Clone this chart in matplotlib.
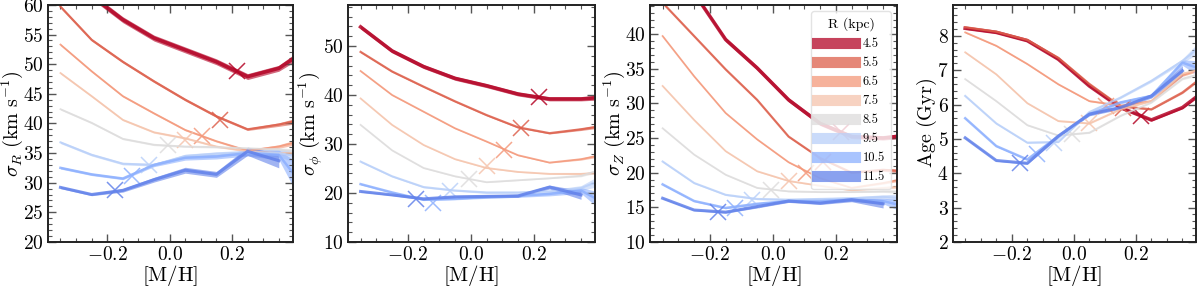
import matplotlib
matplotlib.use('Agg')
import matplotlib.pyplot as plt
import numpy as np
from matplotlib.ticker import MultipleLocator

plt.rcParams['font.family'] = 'serif'
plt.rcParams['font.serif'] = ['cmr10']
plt.rcParams['mathtext.fontset'] = 'cm'
plt.rcParams['axes.formatter.use_mathtext'] = True
plt.rcParams['axes.unicode_minus'] = True

# bin centres in [M/H] (last bin lies just outside the plotted range)
mh = [-0.35, -0.25, -0.15, -0.05, 0.05, 0.15, 0.25, 0.35, 0.45]
radii = [4.5, 5.5, 6.5, 7.5, 8.5, 9.5, 10.5, 11.5]
nan = np.nan

sig_R = [
    [65.0, 61.5, 57.5, 54.4, 52.4, 50.4, 47.9, 49.3, 52.8],
    [59.7, 54.1, 50.4, 47.1, 44.0, 41.2, 39.0, 39.8, 40.9],
    [53.3, 48.8, 44.6, 41.7, 38.9, 37.0, 35.4, 36.1, 37.4],
    [48.5, 44.6, 40.6, 38.5, 37.5, 36.1, 35.3, 35.0, 35.0],
    [42.4, 40.1, 37.4, 36.4, 36.1, 36.0, 35.8, 35.6, 35.0],
    [36.8, 34.7, 33.2, 33.0, 34.5, 34.9, 35.1, 35.0, 34.0],
    [32.5, 31.4, 30.7, 33.0, 34.2, 34.4, 35.0, 34.7, 28.0],
    [29.2, 28.0, 28.7, 30.5, 32.1, 31.4, 35.3, 33.7, nan],
]
err_R = [
    [0.5, 0.5, 0.5, 0.5, 0.5, 0.5, 0.5, 0.5, 0.8],
    [0.2, 0.2, 0.2, 0.2, 0.2, 0.2, 0.2, 0.3, 0.6],
    [0.15, 0.15, 0.15, 0.15, 0.15, 0.15, 0.15, 0.3, 0.5],
    [0.15, 0.15, 0.15, 0.15, 0.15, 0.15, 0.15, 0.3, 0.5],
    [0.15, 0.15, 0.15, 0.15, 0.15, 0.15, 0.15, 0.3, 0.5],
    [0.2, 0.2, 0.2, 0.2, 0.3, 0.3, 0.4, 0.6, 1.5],
    [0.2, 0.2, 0.2, 0.3, 0.4, 0.4, 0.5, 0.8, 4.0],
    [0.2, 0.2, 0.3, 0.4, 0.5, 0.5, 0.7, 1.2, nan],
]

sig_phi = [
    [53.9, 49.0, 45.8, 43.4, 41.9, 40.2, 39.2, 39.2, 39.7],
    [48.8, 44.8, 41.7, 38.7, 35.9, 33.4, 32.2, 33.0, 34.0],
    [44.9, 40.0, 36.6, 33.2, 30.5, 27.7, 26.2, 26.9, 28.2],
    [39.3, 33.9, 29.8, 26.9, 25.1, 24.3, 23.9, 23.9, 24.3],
    [33.9, 28.7, 25.1, 23.4, 22.2, 22.6, 23.0, 23.5, 25.5],
    [26.4, 23.4, 21.2, 20.5, 20.1, 20.1, 20.3, 21.0, 23.5],
    [21.8, 20.1, 18.6, 18.8, 19.2, 19.4, 19.8, 20.5, 17.0],
    [20.3, 19.6, 18.8, 19.2, 19.3, 19.4, 21.2, 19.6, nan],
]
err_phi = [
    [0.4, 0.4, 0.4, 0.4, 0.4, 0.4, 0.4, 0.4, 0.6],
    [0.15, 0.15, 0.15, 0.15, 0.15, 0.15, 0.15, 0.25, 0.4],
    [0.1, 0.1, 0.1, 0.1, 0.1, 0.1, 0.1, 0.2, 0.4],
    [0.1, 0.1, 0.1, 0.1, 0.1, 0.1, 0.1, 0.2, 0.4],
    [0.1, 0.1, 0.1, 0.1, 0.1, 0.1, 0.1, 0.2, 0.5],
    [0.15, 0.15, 0.15, 0.15, 0.2, 0.2, 0.3, 0.5, 1.5],
    [0.15, 0.15, 0.15, 0.2, 0.3, 0.3, 0.4, 0.6, 2.5],
    [0.15, 0.15, 0.2, 0.3, 0.3, 0.3, 0.4, 0.9, nan],
]

sig_z = [
    [50.0, 45.9, 39.2, 35.1, 30.5, 27.1, 25.2, 25.0, 25.5],
    [44.5, 39.7, 34.9, 30.5, 25.2, 22.1, 20.0, 20.4, 20.1],
    [39.7, 33.9, 28.6, 24.8, 21.5, 19.2, 17.8, 18.5, 19.4],
    [32.5, 27.6, 23.1, 20.2, 18.8, 18.1, 17.45, 17.8, 18.1],
    [26.4, 22.6, 19.7, 17.8, 17.3, 17.2, 17.2, 17.3, 17.2],
    [21.6, 18.5, 16.8, 16.2, 16.1, 16.2, 16.3, 16.5, 16.2],
    [18.3, 15.9, 14.9, 15.5, 15.9, 15.9, 16.1, 15.9, 14.8],
    [16.3, 14.6, 14.3, 15.1, 15.9, 15.6, 16.1, 15.5, nan],
]
err_z = [
    [0.3, 0.3, 0.3, 0.3, 0.3, 0.3, 0.3, 0.3, 0.4],
    [0.1, 0.1, 0.1, 0.1, 0.1, 0.1, 0.1, 0.2, 0.3],
    [0.08, 0.08, 0.08, 0.08, 0.08, 0.08, 0.08, 0.15, 0.3],
    [0.08, 0.08, 0.08, 0.08, 0.08, 0.08, 0.08, 0.15, 0.3],
    [0.08, 0.08, 0.08, 0.08, 0.08, 0.08, 0.08, 0.15, 0.3],
    [0.1, 0.1, 0.1, 0.1, 0.15, 0.15, 0.2, 0.3, 0.8],
    [0.1, 0.1, 0.1, 0.15, 0.2, 0.2, 0.25, 0.4, 1.2],
    [0.1, 0.1, 0.15, 0.2, 0.2, 0.2, 0.3, 0.6, nan],
]

age = [
    [8.22, 8.10, 7.86, 7.32, 6.54, 5.91, 5.55, 5.91, 6.60],
    [8.25, 8.12, 7.88, 7.36, 6.60, 5.95, 5.86, 6.35, 7.05],
    [8.10, 7.71, 7.18, 6.59, 6.10, 5.97, 6.10, 6.85, 7.15],
    [7.52, 6.88, 6.04, 5.52, 5.45, 5.86, 6.10, 6.90, 7.10],
    [6.74, 6.10, 5.40, 5.10, 5.18, 5.67, 6.06, 6.75, 7.00],
    [6.25, 5.45, 4.89, 4.91, 5.78, 6.20, 6.69, 7.27, 8.00],
    [5.60, 4.79, 4.40, 5.08, 5.72, 6.06, 6.25, 7.22, 6.90],
    [5.03, 4.37, 4.29, 5.08, 5.72, 5.91, 6.25, 6.98, nan],
]
err_age = [
    [0.03, 0.03, 0.03, 0.03, 0.03, 0.03, 0.03, 0.03, 0.05],
    [0.02, 0.02, 0.02, 0.02, 0.02, 0.02, 0.02, 0.03, 0.05],
    [0.02, 0.02, 0.02, 0.02, 0.02, 0.02, 0.02, 0.03, 0.05],
    [0.02, 0.02, 0.02, 0.02, 0.02, 0.02, 0.02, 0.03, 0.05],
    [0.02, 0.02, 0.02, 0.02, 0.02, 0.02, 0.02, 0.03, 0.05],
    [0.02, 0.02, 0.02, 0.02, 0.03, 0.03, 0.04, 0.06, 0.25],
    [0.02, 0.02, 0.02, 0.03, 0.04, 0.04, 0.05, 0.08, 0.35],
    [0.02, 0.02, 0.03, 0.04, 0.05, 0.05, 0.06, 0.15, nan],
]

# position of the cross markers (mean [M/H] at each radius) and their y values
mark_mh = [0.215, 0.16, 0.105, 0.05, -0.005, -0.065, -0.12, -0.175]
mark_R = [48.8, 40.5, 37.8, 37.2, 36.3, 33.0, 31.2, 28.7]
mark_phi = [39.5, 33.3, 28.8, 25.6, 22.8, 20.3, 18.0, 18.8]
mark_z = [25.8, 21.6, 19.9, 18.8, 17.5, 16.1, 14.9, 14.3]
mark_age = [5.68, 5.90, 5.97, 5.45, 5.15, 4.88, 4.55, 4.30]

panels = [
    (sig_R, err_R, mark_R, r'$\sigma_R\ (\mathrm{km\ s^{-1}})$', (20, 60), 5, 1),
    (sig_phi, err_phi, mark_phi, r'$\sigma_\phi\ (\mathrm{km\ s^{-1}})$', (10, 58.4), 10, 2),
    (sig_z, err_z, mark_z, r'$\sigma_Z\ (\mathrm{km\ s^{-1}})$', (10, 44.2), 5, 1),
    (age, err_age, mark_age, r'$\mathrm{Age\ (Gyr)}$', (2, 8.9), 1, 0.2),
]
lefts = [0.040, 0.290, 0.5417, 0.794]
widths = [0.204, 0.206, 0.206, 0.203]
lws = [2.6, 1.6, 1.3, 1.3, 1.3, 1.5, 1.8, 2.2]

# coolwarm, centred on the solar radius (8.5 kpc is grey)
cmap = plt.get_cmap('coolwarm')
colors = [cmap((12.5 - r) / 8.0) for r in radii]

fig = plt.figure(figsize=(12, 2.88), dpi=100)
x = np.array(mh)

for k, (vals, errs, marks, ylab, ylim, maj, mnr) in enumerate(panels):
    ax = fig.add_axes([lefts[k], 0.160, widths[k], 0.823])
    for i in range(len(radii)):
        y = np.array(vals[i])
        e = np.array(errs[i])
        ax.fill_between(x, y - e, y + e, color=colors[i], alpha=0.6, lw=0)
        ax.plot(x, y, color=colors[i], lw=lws[i], alpha=0.85,
                label='%.1f' % radii[i])
        ax.plot(mark_mh[i], marks[i], 'x', color=colors[i], ms=11, mew=1.1,
                alpha=0.85)
    ax.set_xlim(-0.39, 0.395)
    ax.set_ylim(*ylim)
    ax.xaxis.set_major_locator(MultipleLocator(0.2))
    ax.xaxis.set_minor_locator(MultipleLocator(0.05))
    ax.yaxis.set_major_locator(MultipleLocator(maj))
    ax.yaxis.set_minor_locator(MultipleLocator(mnr))
    ax.tick_params(which='both', direction='in', top=True, right=True,
                   color='#555555', labelsize=14, pad=3)
    ax.tick_params(which='major', length=6, width=1)
    ax.tick_params(which='minor', length=3, width=0.8)
    for s in ax.spines.values():
        s.set_linewidth(1.4)
        s.set_color('#222222')
    ax.set_xlabel(r'$\mathrm{[M/H]}$', fontsize=15, labelpad=-1)
    ax.set_ylabel(ylab, fontsize=14.5, labelpad=-1)

    if k == 2:
        handles = [plt.Line2D([], [], color=colors[i], lw=8, alpha=0.75)
                   for i in range(len(radii))]
        leg = ax.legend(handles, ['%.1f' % r for r in radii], title='R (kpc)',
                        loc='upper right', fontsize=9, title_fontsize=10,
                        handlelength=3.0, labelspacing=0.55, borderpad=0.5,
                        handletextpad=0.6, framealpha=0.8, edgecolor='#dddddd')

fig.savefig('out.png', dpi=100)
